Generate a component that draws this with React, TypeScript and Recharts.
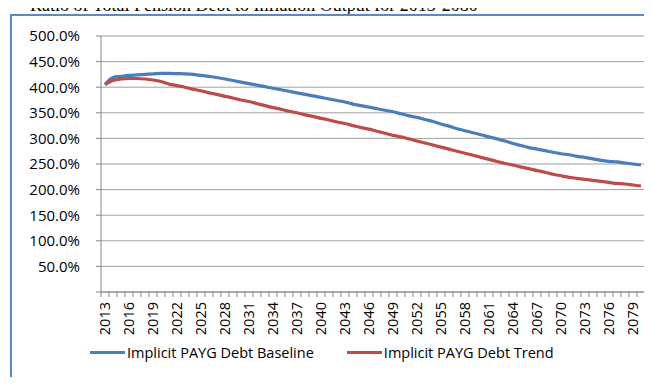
import React from "react";
import { LineChart, Line, XAxis, YAxis, CartesianGrid, Legend } from "recharts";

// years 2013..2080
const years: string[] = [
  "2013", "2014", "2015", "2016", "2017", "2018", "2019", "2020", "2021", "2022",
  "2023", "2024", "2025", "2026", "2027", "2028", "2029", "2030", "2031", "2032",
  "2033", "2034", "2035", "2036", "2037", "2038", "2039", "2040", "2041", "2042",
  "2043", "2044", "2045", "2046", "2047", "2048", "2049", "2050", "2051", "2052",
  "2053", "2054", "2055", "2056", "2057", "2058", "2059", "2060", "2061", "2062",
  "2063", "2064", "2065", "2066", "2067", "2068", "2069", "2070", "2071", "2072",
  "2073", "2074", "2075", "2076", "2077", "2078", "2079", "2080",
];

// Implicit PAYG Debt Baseline, % of output
const baseline: number[] = [
  405, 419, 421, 423, 424, 425, 426, 427, 427, 426.5,
  426, 425, 423, 421, 419, 416, 413, 410, 407, 404,
  401, 398, 395, 392, 389, 386, 383, 380, 377, 374,
  371, 367, 364, 361, 358, 355, 352, 348, 344, 341,
  337, 333, 328, 324, 319, 315, 311, 307, 303, 299,
  295, 290, 286, 282, 279, 276, 273, 270, 268, 265,
  263, 260, 257, 255, 254, 252, 250, 248,
];

// Implicit PAYG Debt Trend, % of output
const trend: number[] = [
  405, 413, 416, 417, 417, 416, 414, 411, 406, 403,
  400, 396, 393, 389, 386, 382, 379, 375, 372, 368,
  364, 360, 357, 353, 350, 346, 343, 339, 336, 332,
  329, 325, 321, 318, 314, 310, 306, 303, 299, 295,
  291, 287, 283, 279, 275, 271, 267, 263, 259, 255,
  251, 248, 244, 241, 237, 234, 230, 227, 224, 222,
  220, 218, 216, 214, 212, 211, 209, 207,
];

const yTicks: number[] = [0, 50, 100, 150, 200, 250, 300, 350, 400, 450, 500];

const seriesNames = ["Implicit PAYG Debt Baseline", "Implicit PAYG Debt Trend"];
const seriesColors = ["#4A7EBB", "#BE4B48"];

const data = years.map((year, i) => ({
  year,
  baseline: baseline[i],
  trend: trend[i],
}));

const FONT = "'Open Sans', sans-serif";

// category tick: a small mark at each category boundary, label every third year
const YearTick = (props: any) => {
  const { x, y, payload, index } = props;
  const half = 4;
  const last = index === years.length - 1;
  return (
    <g>
      <line x1={x - half} x2={x - half} y1={y - 8} y2={y - 3} stroke="#868686" />
      {last && <line x1={x + half} x2={x + half} y1={y - 8} y2={y - 3} stroke="#868686" />}
      {index % 3 === 0 && (
        <text
          transform={`translate(${x},${y + 2}) rotate(-90)`}
          textAnchor="end"
          dy="0.36em"
          fontSize={14.5}
          fontFamily={FONT}
          fill="#000"
        >
          {payload.value}
        </text>
      )}
    </g>
  );
};

const LegendContent = () => (
  <div style={{ display: "flex", alignItems: "center", fontFamily: FONT, fontSize: 14.5, color: "#000" }}>
    {seriesNames.map((name, i) => (
      <div key={name} style={{ display: "flex", alignItems: "center", marginRight: i === 0 ? 33 : 0 }}>
        <div style={{ width: 35, height: 3, background: seriesColors[i], marginRight: 2 }} />
        <span>{name}</span>
      </div>
    ))}
  </div>
);

export default function App() {
  return (
    <div style={{ position: "relative", width: 652, height: 385, margin: -8, overflow: "hidden", background: "#fff" }}>
      <div
        style={{
          position: "absolute",
          left: 30,
          top: -4,
          fontFamily: "'Liberation Serif', serif",
          fontSize: 18,
          lineHeight: "18px",
          whiteSpace: "nowrap",
        }}
      >
        Ratio of Total Pension Debt to Inflation Output for 2013-2080
      </div>
      <div
        style={{
          position: "absolute",
          left: 10,
          top: 14,
          width: 700,
          height: 420,
          border: "2px solid #5A8AC6",
          boxSizing: "border-box",
        }}
      />
      <div style={{ position: "absolute", left: 0, top: 0 }}>
        <LineChart width={652} height={385} data={data} margin={{ top: 36, right: 7, left: 11, bottom: 53 }}>
          <CartesianGrid vertical={false} stroke="#A0A0A0" strokeWidth={1} />
          <XAxis
            dataKey="year"
            interval={0}
            padding={{ left: 4, right: 4 }}
            tick={<YearTick />}
            tickLine={false}
            axisLine={{ stroke: "#868686" }}
            height={40}
          />
          <YAxis
            domain={[0, 500]}
            ticks={yTicks}
            width={90}
            tickSize={5}
            tickMargin={16}
            tickLine={{ stroke: "#868686" }}
            axisLine={{ stroke: "#868686" }}
            tickFormatter={(v: number) => (v === 0 ? "" : `${v.toFixed(1)}%`)}
            tick={{ fontSize: 15, fontFamily: FONT, fill: "#000" }}
          />
          <Line
            dataKey="baseline"
            name={seriesNames[0]}
            stroke={seriesColors[0]}
            strokeWidth={3.2}
            dot={false}
            type="monotone"
            isAnimationActive={false}
          />
          <Line
            dataKey="trend"
            name={seriesNames[1]}
            stroke={seriesColors[1]}
            strokeWidth={3.2}
            dot={false}
            type="monotone"
            isAnimationActive={false}
          />
          <Legend
            layout="horizontal"
            verticalAlign="middle"
            align="center"
            content={<LegendContent />}
            wrapperStyle={{ position: "absolute", left: 90, top: 343, width: "auto" }}
          />
        </LineChart>
      </div>
    </div>
  );
}
